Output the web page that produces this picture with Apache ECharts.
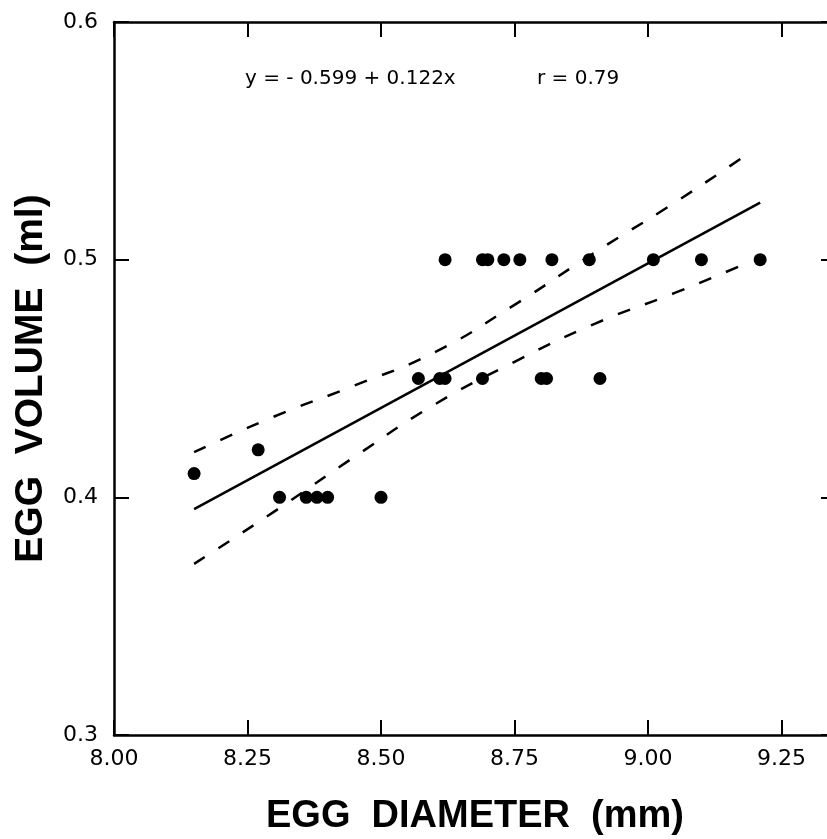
<!DOCTYPE html>
<html>
<head>
<meta charset="utf-8">
<script src="https://cdn.jsdelivr.net/npm/echarts@6/dist/echarts.min.js"></script>
<style>
  html, body { margin: 0; padding: 0; background: #fff; overflow: hidden; }
  #chart { width: 827px; height: 839px; }
</style>
</head>
<body>
<div id="chart"></div>
<script>
// egg diameter vs egg volume
var eggDiameter = [8.15, 8.27, 8.31, 8.36, 8.38, 8.40, 8.50,
                   8.57, 8.61, 8.62, 8.69, 8.80, 8.81, 8.91,
                   8.62, 8.69, 8.70, 8.73, 8.76, 8.82, 8.89, 9.01, 9.10, 9.21];
var eggVolume = [0.41, 0.42, 0.40, 0.40, 0.40, 0.40, 0.40,
                 0.45, 0.45, 0.45, 0.45, 0.45, 0.45, 0.45,
                 0.50, 0.50, 0.50, 0.50, 0.50, 0.50, 0.50, 0.50, 0.50, 0.50];

// fitted line end points and the dashed confidence bands
var fitX = [8.15, 9.21];
var fitY = [0.395, 0.524];
var bandX = [8.15, 8.30, 8.45, 8.60, 8.75, 8.90, 9.05, 9.19];
var upperY = [0.419, 0.434, 0.447, 0.461, 0.481, 0.503, 0.524, 0.545];
var lowerY = [0.372, 0.394, 0.417, 0.439, 0.457, 0.473, 0.486, 0.499];

var xTicks = [8.00, 8.25, 8.50, 8.75, 9.00, 9.25];
var yTicks = [0.3, 0.4, 0.5, 0.6];

function pairs(xs, ys) {
    return xs.map(function (x, i) { return [x, ys[i]]; });
}

var dom = document.getElementById('chart');
var myChart = echarts.init(dom);

var tickFont = 'DejaVu Sans';
var axisLine = { show: true, onZero: false, lineStyle: { color: '#000', width: 2.5 } };
var axisTick = { show: true, inside: true, length: 15, lineStyle: { color: '#000', width: 2 } };

var option = {
    backgroundColor: '#fff',
    animation: false,
    grid: { left: 114, top: 22, width: 722, height: 713, containLabel: false, outerBoundsMode: 'none' },
    graphic: [
        { type: 'text', left: 245, top: 69,
          style: { text: 'y = - 0.599 + 0.122x', font: '20px "DejaVu Sans"', fill: '#000' } },
        { type: 'text', left: 537, top: 69,
          style: { text: 'r = 0.79', font: '20px "DejaVu Sans"', fill: '#000' } }
    ],
    xAxis: [
        {
            type: 'value',
            min: xTicks[0],
            max: 9.352,
            interval: 0.25,
            name: 'EGG  DIAMETER  (mm)',
            nameLocation: 'middle',
            nameGap: 63,
            nameTextStyle: { fontFamily: 'Liberation Sans', fontWeight: 'bold', fontSize: 38, color: '#000' },
            axisLine: axisLine,
            axisTick: axisTick,
            splitLine: { show: false },
            axisLabel: {
                showMaxLabel: false,
                margin: 13,
                fontFamily: tickFont, fontSize: 22, color: '#000',
                formatter: function (v) { return v.toFixed(2); }
            }
        },
        {
            type: 'value',
            position: 'top',
            min: xTicks[0],
            max: 9.352,
            interval: 0.25,
            axisLine: axisLine,
            axisTick: axisTick,
            axisLabel: { show: false },
            splitLine: { show: false }
        }
    ],
    yAxis: [
        {
            type: 'value',
            min: yTicks[0],
            max: yTicks[yTicks.length - 1],
            interval: 0.1,
            name: 'EGG  VOLUME  (ml)',
            nameLocation: 'middle',
            nameGap: 63,
            nameTextStyle: { fontFamily: 'Liberation Sans', fontWeight: 'bold', fontSize: 39, color: '#000' },
            axisLine: axisLine,
            axisTick: axisTick,
            splitLine: { show: false },
            axisLabel: {
                margin: 16,
                fontFamily: tickFont, fontSize: 22, color: '#000',
                formatter: function (v) { return v.toFixed(1); }
            }
        },
        {
            type: 'value',
            position: 'right',
            min: yTicks[0],
            max: yTicks[yTicks.length - 1],
            interval: 0.1,
            axisLine: axisLine,
            axisTick: axisTick,
            axisLabel: { show: false },
            splitLine: { show: false }
        }
    ],
    series: [
        {
            name: 'eggs',
            type: 'scatter',
            symbol: 'circle',
            symbolSize: 13,
            itemStyle: { color: '#000', opacity: 1 },
            data: pairs(eggDiameter, eggVolume),
            z: 5
        },
        {
            name: 'fit',
            type: 'line',
            showSymbol: false,
            lineStyle: { color: '#000', width: 2.5 },
            data: pairs(fitX, fitY)
        },
        {
            name: 'upper',
            type: 'line',
            smooth: true,
            showSymbol: false,
            lineStyle: { color: '#000', width: 2.5, type: [13, 16] },
            data: pairs(bandX, upperY)
        },
        {
            name: 'lower',
            type: 'line',
            smooth: true,
            showSymbol: false,
            lineStyle: { color: '#000', width: 2.5, type: [13, 16] },
            data: pairs(bandX, lowerY)
        }
    ]
};

if (option && typeof option === 'object') {
    myChart.setOption(option);
}
</script>
</body>
</html>
